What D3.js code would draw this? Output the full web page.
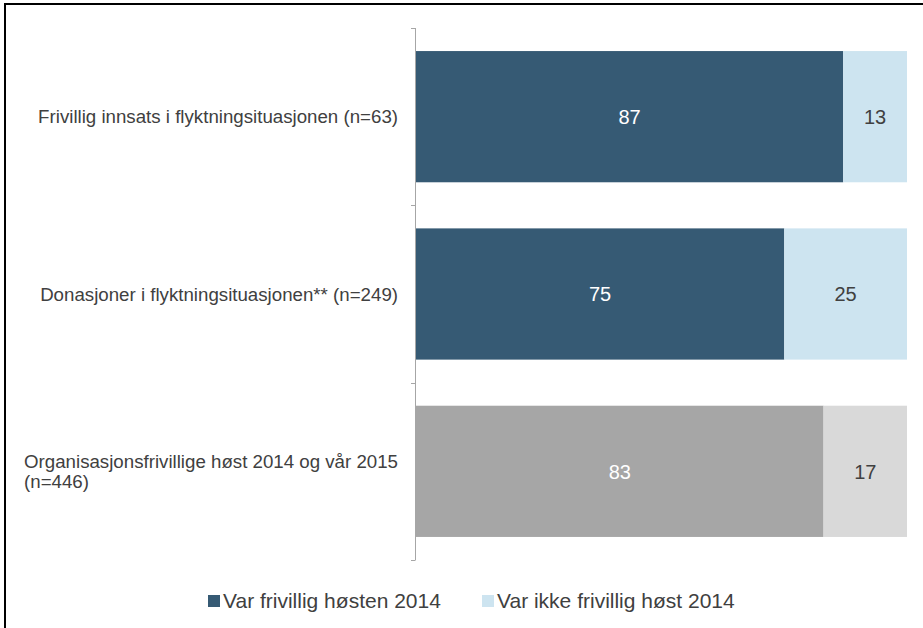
<!DOCTYPE html>
<html>
<head>
<meta charset="utf-8">
<script src="https://cdn.jsdelivr.net/npm/d3@7"></script>
<style>
  body { margin: 0; background: #fff; }
  svg text { font-family: "Liberation Sans", Arial, sans-serif; }
</style>
</head>
<body>
<div id="bar_chart"></div>
<script>
// categories (top to bottom), label lines
const categories = ["Frivillig innsats i flyktningsituasjonen (n=63)",
                    "Donasjoner i flyktningsituasjonen** (n=249)",
                    "Organisasjonsfrivillige høst 2014 og vår 2015 (n=446)"];
const labelLines = [["Frivillig innsats i flyktningsituasjonen (n=63)"],
                    ["Donasjoner i flyktningsituasjonen** (n=249)"],
                    ["Organisasjonsfrivillige høst 2014 og vår 2015", "(n=446)"]];
const varFrivillig = [87, 75, 83];
const ikkeFrivillig = [13, 25, 17];
const seriesNames = ["Var frivillig høsten 2014", "Var ikke frivillig høst 2014"];

const width = 923, height = 628;
const svg = d3.select("#bar_chart")
    .append("svg")
    .attr("width", width)
    .attr("height", height);

// frame (left and top edges visible)
svg.append("path")
    .attr("d", `M5,${height} V4 H${width}`)
    .attr("fill", "none")
    .attr("stroke", "#000")
    .attr("stroke-width", 2);

const x = d3.scaleLinear().domain([0, 100]).range([416, 907]);
const y = d3.scaleBand().domain(categories).range([28, 560]).paddingInner(0.26).paddingOuter(0.13);

// axis with bracket ticks at band boundaries
const bounds = [28, 28 + 532 / 3, 28 + 2 * 532 / 3, 560];
svg.append("line")
    .attr("x1", 415.5).attr("x2", 415.5)
    .attr("y1", 28).attr("y2", 560)
    .attr("stroke", "#a6a6a6").attr("stroke-width", 1);
svg.selectAll(".tick")
    .data(bounds)
    .join("line")
    .attr("x1", 411).attr("x2", 415.5)
    .attr("y1", d => Math.round(d) + 0.5).attr("y2", d => Math.round(d) + 0.5)
    .attr("stroke", "#a6a6a6");

const rows = categories.map((c, i) => ({cat: c, a: varFrivillig[i], b: ikkeFrivillig[i], i: i}));
const darkCol = i => i === 2 ? "#a6a6a6" : "#365a74";
const lightCol = i => i === 2 ? "#d9d9d9" : "#cde4f0";

// bars
svg.selectAll(".barA")
    .data(rows)
    .join("rect")
    .attr("x", x(0))
    .attr("y", d => y(d.cat))
    .attr("width", d => x(d.a) - x(0))
    .attr("height", y.bandwidth())
    .attr("fill", d => darkCol(d.i));
svg.selectAll(".barB")
    .data(rows)
    .join("rect")
    .attr("x", d => x(d.a))
    .attr("y", d => y(d.cat))
    .attr("width", d => x(d.a + d.b) - x(d.a))
    .attr("height", y.bandwidth())
    .attr("fill", d => lightCol(d.i));

// value labels
svg.selectAll(".valA")
    .data(rows)
    .join("text")
    .attr("x", d => (x(0) + x(d.a)) / 2)
    .attr("y", d => y(d.cat) + y.bandwidth() / 2)
    .attr("dy", "0.36em")
    .attr("text-anchor", "middle")
    .style("font-size", "20px")
    .attr("fill", "#fff")
    .text(d => d.a);
svg.selectAll(".valB")
    .data(rows)
    .join("text")
    .attr("x", d => (x(d.a) + x(d.a + d.b)) / 2)
    .attr("y", d => y(d.cat) + y.bandwidth() / 2)
    .attr("dy", "0.36em")
    .attr("text-anchor", "middle")
    .style("font-size", "20px")
    .attr("fill", "#404040")
    .text(d => d.b);

// category labels: block right aligned at 398, lines left aligned inside
const lab = svg.selectAll(".cat")
    .data(rows)
    .join("text")
    .style("font-size", "18.7px")
    .attr("fill", "#404040");
lab.each(function(d) {
    const t = d3.select(this);
    const lines = labelLines[d.i];
    const cy = y(d.cat) + y.bandwidth() / 2;
    const lh = 20;
    lines.forEach((l, k) => {
        t.append("tspan")
            .attr("y", cy + (k - (lines.length - 1) / 2) * lh)
            .attr("dy", "0.35em")
            .text(l);
    });
    // measure widest line and left align block so it ends at 398
    let w = 0;
    t.selectAll("tspan").each(function() { w = Math.max(w, this.getComputedTextLength()); });
    t.selectAll("tspan").attr("x", 398 - w);
});

// legend
const legend = svg.append("g");
const legX = [208, 482];
seriesNames.forEach((s, i) => {
    legend.append("rect")
        .attr("x", legX[i]).attr("y", 595)
        .attr("width", 12).attr("height", 12)
        .attr("fill", i === 0 ? "#365a74" : "#cde4f0");
    legend.append("text")
        .attr("x", legX[i] + 15).attr("y", 601)
        .attr("dy", "0.35em")
        .style("font-size", "21px")
        .attr("fill", "#404040")
        .text(s);
});
</script>
</body>
</html>
